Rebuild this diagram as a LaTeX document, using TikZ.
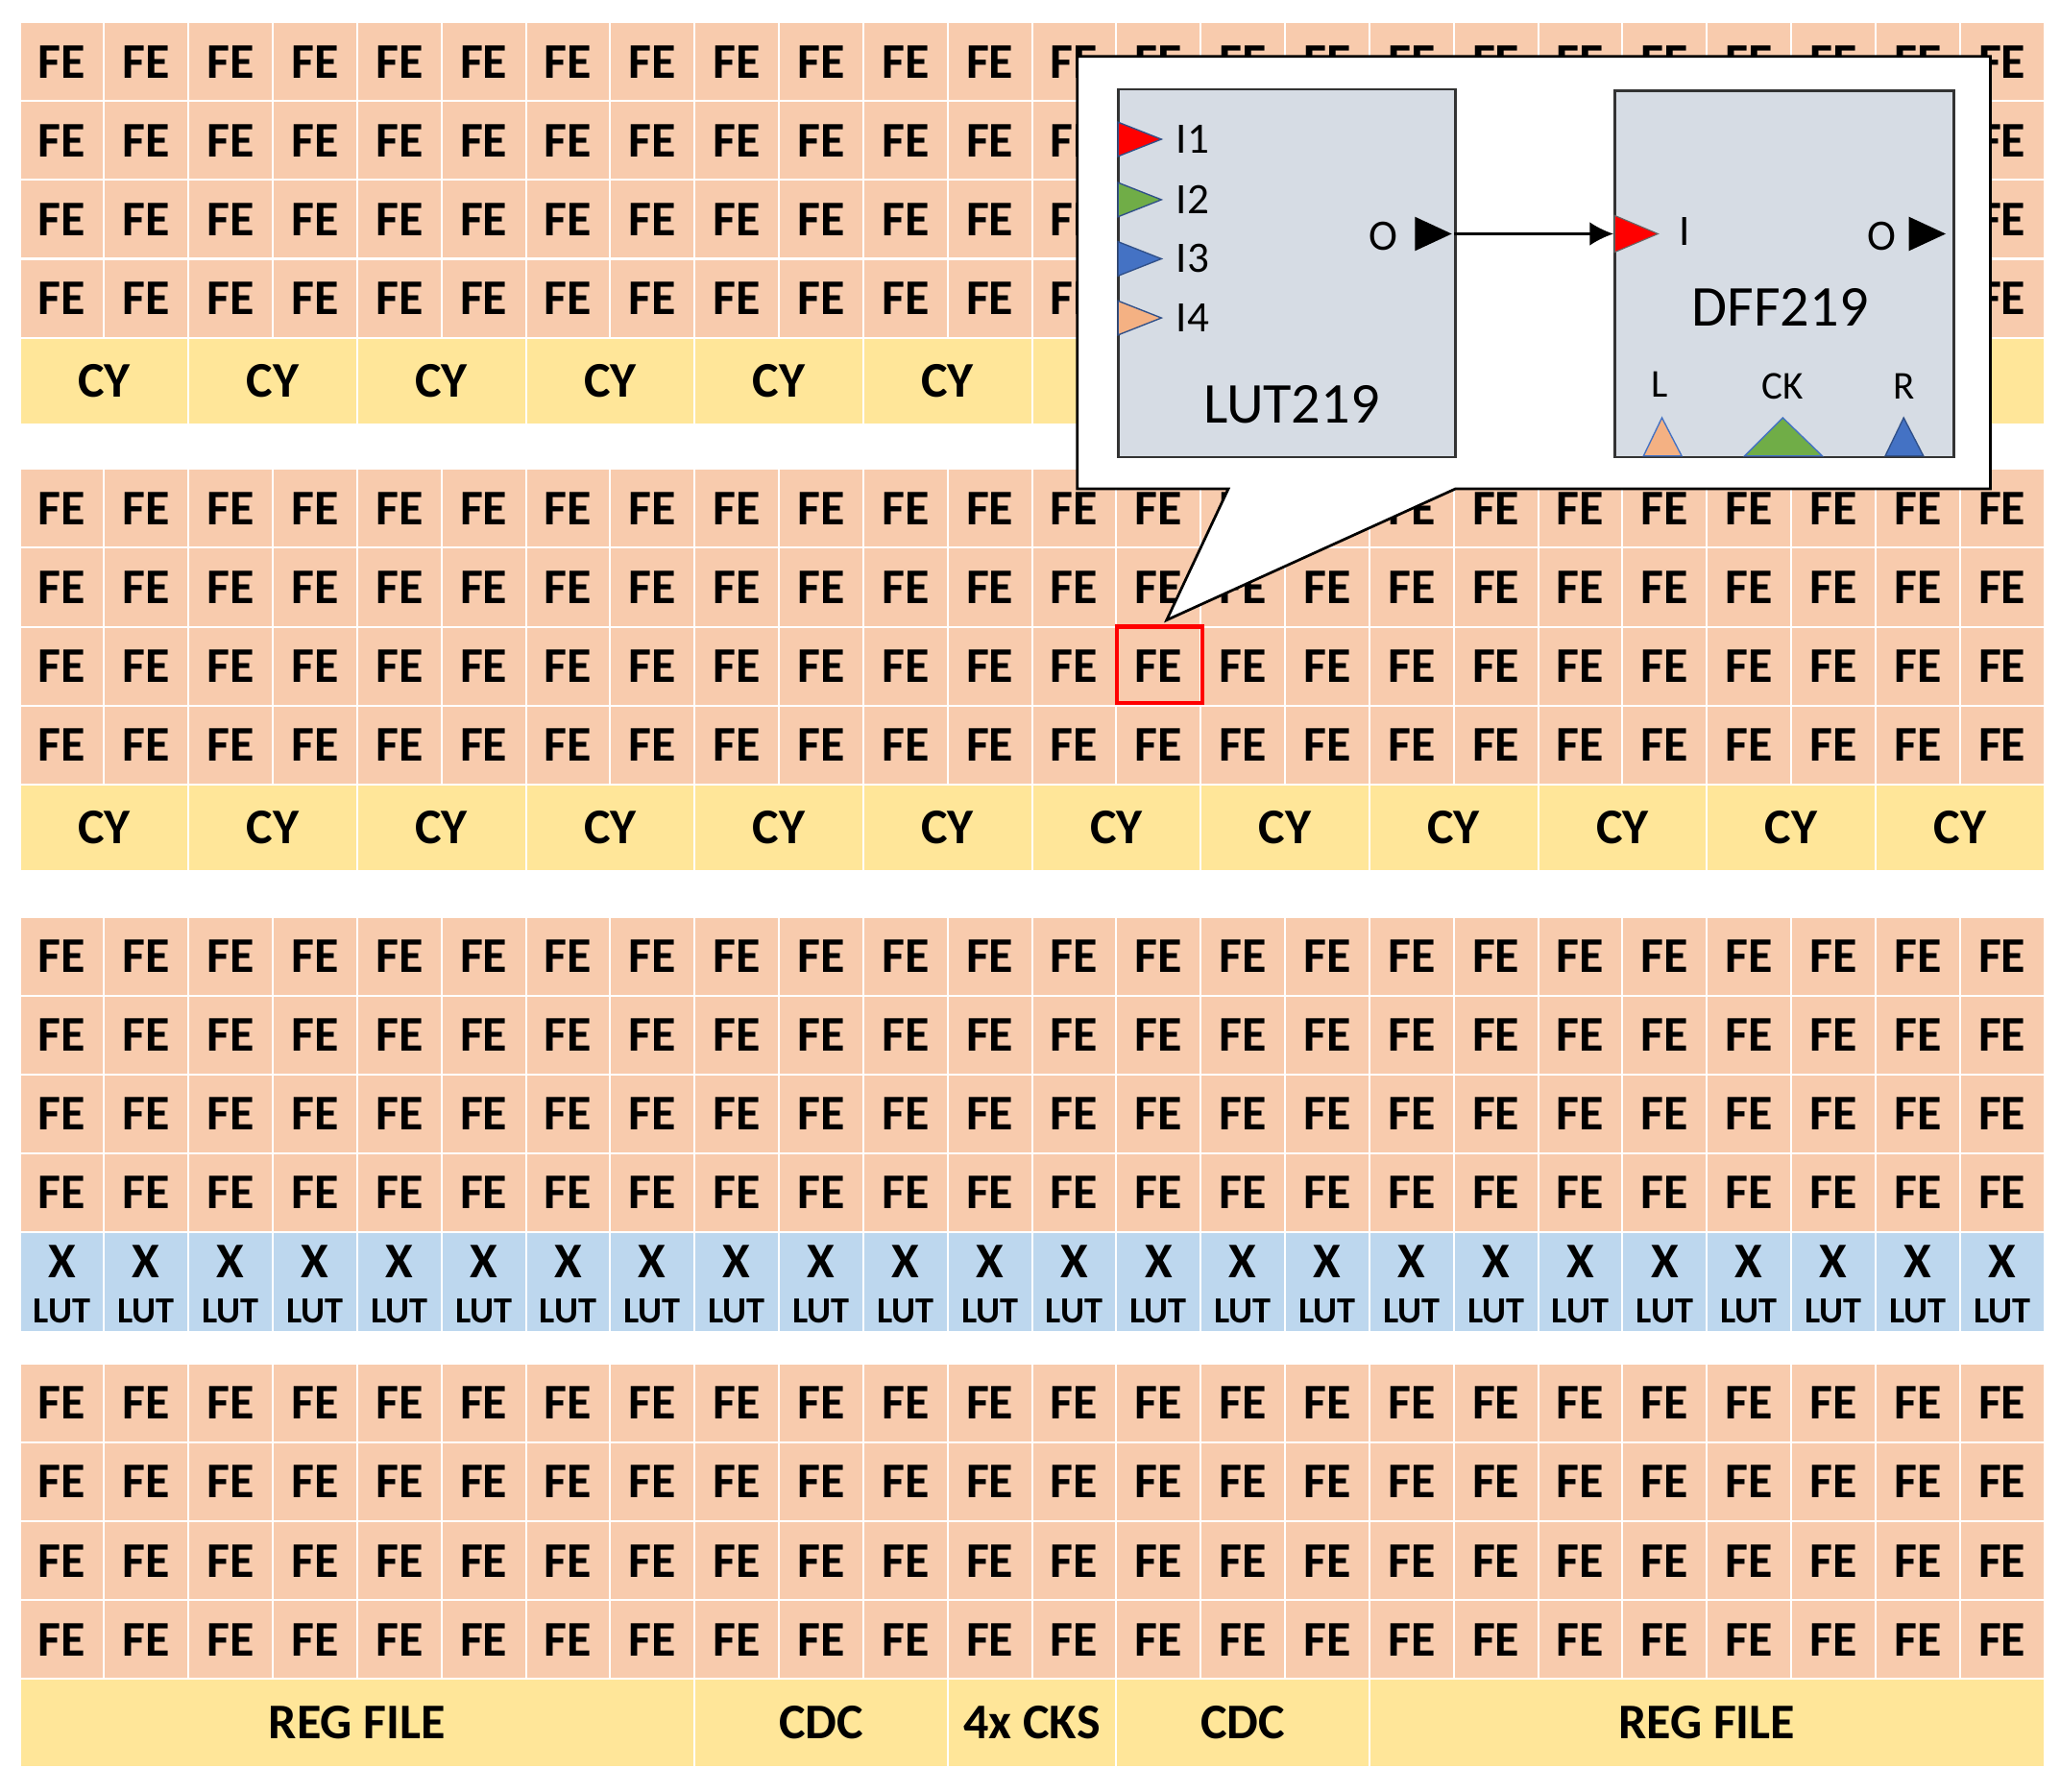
\documentclass[tikz,border=0pt]{standalone}
\usepackage{fontspec}
\setmainfont{Carlito}
\usetikzlibrary{arrows.meta}
\definecolor{fe}{HTML}{F8CBAD}
\definecolor{cy}{HTML}{FFE699}
\definecolor{lutc}{HTML}{BDD7EE}
\definecolor{boxg}{HTML}{D6DCE4}
\definecolor{pred}{HTML}{FF0000}
\definecolor{pgreen}{HTML}{70AD47}
\definecolor{pblue}{HTML}{4472C4}
\definecolor{ppeach}{HTML}{F4B183}
\tikzset{
 cell/.style={draw=white,line width=1.5pt,inner sep=0pt,font=\fontsize{38}{38}\selectfont\bfseries},
 lbl/.style={inner sep=0pt,font=\fontsize{33}{33}\selectfont},
}
\begin{document}
\begin{tikzpicture}[x=1pt,y=-1pt]
\useasboundingbox (0,0) rectangle (1568,1364);
\def\cw{64.208}
% FE bands
\foreach \b/\top in {1/17,2/357,3/698,4/1038}{
 \foreach \r in {0,...,3}{
  \foreach \c in {0,...,23}{
   \path[cell,fill=fe] (15+\c*\cw,\top+\r*60) rectangle +(\cw,60)
     node[pos=.5,cell,draw=none] (fe\b-\r-\c) {FE};
  }}}
% CY rows
\foreach \b/\top in {1/257,2/597}{
 \foreach \c in {0,...,11}{
  \path[cell,fill=cy] (15+\c*2*\cw,\top) rectangle +(2*\cw,66)
    node[pos=.5,cell,draw=none] (cy\b-\c) {CY};
 }}
% LUT row
\foreach \c in {0,...,23}{
 \path[cell,fill=lutc] (15+\c*\cw,938) rectangle +(\cw,76);
 \node[cell,draw=none] (x\c) at (15+\c*\cw+\cw/2,960) {X};
 \node[cell,draw=none,font=\fontsize{28}{28}\selectfont\bfseries] (lut\c) at (15+\c*\cw+\cw/2,998) {LUT};
}
% bottom row
\foreach \a/\n/\t/\nm in {0/8/REG FILE/rf1,8/3/CDC/cdc1,11/2/4x CKS/cks,13/3/CDC/cdc2,16/8/REG FILE/rf2}{
 \path[cell,fill=cy] (15+\a*\cw,1278) rectangle +(\n*\cw,67)
   node[pos=.5,cell,draw=none] (\nm) {\t};
}
% highlight
\draw[red,line width=3pt] (850,477) rectangle (915,535);
% callout
\draw[fill=white,line width=2pt,line join=miter] (820,43) -- (1515,43) -- (1515,372) -- (1108,372) -- (888,472) -- (935,372) -- (820,372) -- cycle;
% LUT box
\node[draw=black!80,line width=2pt,fill=boxg,minimum width=257,minimum height=280,anchor=north west] (lutbox) at (850,67) {};
\node[draw=black!80,line width=2pt,fill=boxg,minimum width=258,minimum height=279,anchor=north west] (dffbox) at (1228,68) {};
\foreach \y/\col/\t in {106/pred/I1,152/pgreen/I2,197/pblue/I3,242/ppeach/I4}{
 \fill[\col,draw=pblue!70!black,line width=1pt] (851,\y-13) -- (884,\y) -- (851,\y+13) -- cycle;
 \node[lbl,anchor=west] (l\t) at (895,\y) {\t};
}
\node[lbl] (lo) at (1053,180) {O};
\fill (1077,165) -- (1105,178) -- (1077,191) -- cycle;
\node[lbl,font=\fontsize{44}{44}\selectfont] (lutname) at (983,308) {LUT219};
\coordinate (lutout) at (1107,178);
\coordinate (dffin) at (1228,178);
\draw[line width=1.5pt,-{Latex[length=18pt,width=18pt]}] (lutout) -- (dffin);
\fill[pred,draw=black!60,line width=0.8pt] (1229,164) -- (1262,178) -- (1229,192) -- cycle;
\node[lbl] (di) at (1282,176) {I};
\node[lbl] (dout) at (1432,180) {O};
\fill (1453,165) -- (1481,178) -- (1453,191) -- cycle;
\node[lbl,font=\fontsize{44}{44}\selectfont] (dffname) at (1355,234) {DFF219};
\node[lbl,font=\fontsize{30}{30}\selectfont] (pl) at (1263,293) {L};
\node[lbl,font=\fontsize{30}{30}\selectfont] (pck) at (1357,294) {CK};
\node[lbl,font=\fontsize{30}{30}\selectfont] (pr) at (1449,294) {R};
\fill[ppeach,draw=pblue,line width=1pt] (1251,347) -- (1265,318) -- (1280,347) -- cycle;
\fill[pgreen,draw=pblue,line width=1pt] (1328,347) -- (1357,318) -- (1387,347) -- cycle;
\fill[pblue,draw=pblue!70!black,line width=1pt] (1435,347) -- (1449,318) -- (1464,347) -- cycle;
\end{tikzpicture}
\end{document}
